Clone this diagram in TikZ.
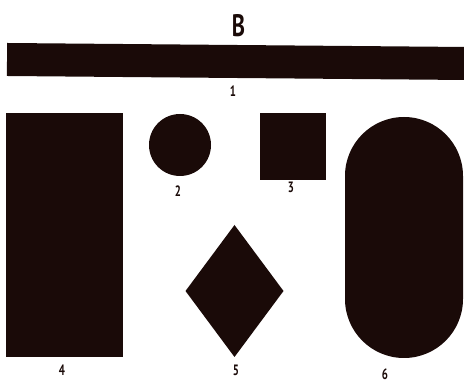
\documentclass[tikz,border=0pt]{standalone}
\usepackage{fontspec}
\setmainfont{PT Sans}
\newfontfamily\condfont[FakeStretch=0.72]{PT Sans}
\usetikzlibrary{shapes.geometric}
\definecolor{ink}{HTML}{1A0A08}
\begin{document}
\begin{tikzpicture}[x=1pt,y=-1pt,
  solid/.style={fill=ink,draw=none,inner sep=0pt,outer sep=0pt},
  lbl/.style={font=\condfont\bfseries\fontsize{15}{15}\selectfont,text=ink,inner sep=0pt}]
\useasboundingbox (0,0) rectangle (464,382);
\node[lbl,font=\condfont\bfseries\fontsize{31}{31}\selectfont] (title) at (238.5,26) {B};
\node[solid,rectangle,minimum width=460,minimum height=33,rotate=-0.5] (s1) at (237,61.5) {};
\node[lbl] (l1) at (233,91) {1};
\node[solid,circle,minimum size=62] (s2) at (180,145) {};
\node[lbl] (l2) at (178,191) {2};
\node[solid,rectangle,minimum width=66,minimum height=67] (s3) at (293,146.5) {};
\node[lbl] (l3) at (291,187) {3};
\node[solid,rectangle,minimum width=117,minimum height=244] (s4) at (64.5,235) {};
\node[lbl] (l4) at (62,370) {4};
\node[solid,diamond,aspect=0.74,minimum width=98,minimum height=132] (s5) at (234.5,291) {};
\node[lbl] (l5) at (236,370) {5};
\node[solid,rectangle,rounded corners=59,minimum width=118,minimum height=241] (s6) at (404,237.5) {};
\node[lbl] (l6) at (385,374) {6};
\end{tikzpicture}
\end{document}
